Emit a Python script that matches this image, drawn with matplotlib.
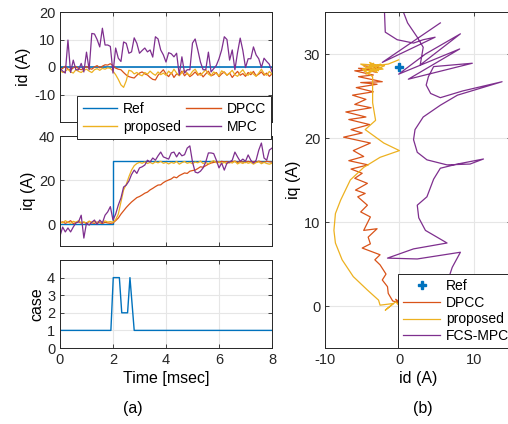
import numpy as np
import matplotlib
matplotlib.use("Agg")
import matplotlib.pyplot as plt
from matplotlib.lines import Line2D

plt.rcParams['font.family'] = ['Liberation Sans', 'DejaVu Sans']
plt.rcParams['font.size'] = 10
plt.rcParams['axes.unicode_minus'] = False

C_REF = '#0072BD'
C_DPCC = '#D95319'
C_PROP = '#EDB120'
C_MPC = '#7E2F8E'

# ---- time-domain data (sampled every 0.1 ms, 0..8 ms) ----
t = np.linspace(0, 8, 81)

ref_t = [0, 2.0, 2.0, 8]
ref_id = [0, 0, 0, 0]
ref_iq = [0, 0, 28.5, 28.5]

mpc_id = [-0.4, -1.5, -2.2, 9.8, -2.0, 2.5, -1.0, -1.0, 1.3, -1.8,
          5.4, -1.0, 12.2, 12.0, 10.0, 7.3, 14.1, 8.0, 8.0, 7.5,
          -2.2, 6.9, 3.2, 2.0, 9.1, 8.6, 5.0, 5.5, 10.6, 8.6,
          5.0, 6.0, 6.9, 5.5, 6.2, 3.6, 11.0, 10.2, 6.2, 4.4,
          1.8, 5.2, 4.8, 3.7, 5.0, -2.9, 3.7, -2.2, -1.0, -1.0,
          8.7, 10.2, 6.2, 1.8, -1.0, -1.0, 5.4, -1.8, -0.6, 0.6,
          3.0, 6.2, 11.0, 10.0, 2.5, 6.2, -1.0, 5.3, 10.5, 6.0,
          -0.2, 3.0, 3.0, 7.3, 4.4, 3.0, -0.2, 3.2, 2.0, 1.0, -1.8]

dpcc_id = [-1.0, -0.5, 0.3, -0.8, -1.2, -0.3, 0.2, -0.6, -1.0, -0.4,
           0.2, -0.5, -0.8, 0.0, 0.5, -0.3, 0.3, 0.8, 0.7, 1.2,
           0.5, -0.4, -0.8, -1.0, -2.0, -2.9, -3.5, -3.8, -4.0, -3.0,
           -2.2, -1.8, -2.5, -2.9, -3.8, -4.5, -4.7, -3.0, -2.0, -1.0,
           -2.5, -3.5, -2.0, -3.8, -2.5, -3.0, -1.5, -3.2, -2.2, -3.5,
           -2.8, -1.8, -3.0, -2.2, -3.6, -2.5, -1.5, -3.2, -2.8, -2.0,
           -3.5, -2.5, -1.8, -3.0, -2.2, -3.8, -2.6, -1.6, -3.0, -2.4,
           -3.4, -2.0, -2.8, -1.6, -3.2, -2.6, -1.8, -3.0, -2.2, -3.4, -2.5]

prop_id = [-1.2, -2.0, -1.5, -0.8, -1.8, -2.2, -1.0, -1.6, -2.0, -1.2,
           -0.8, -1.5, -2.0, -1.0, -0.6, -1.2, -0.5, -0.8, -0.3, -0.5,
           -1.5, -2.8, -4.5, -6.5, -7.4, -5.0, -1.2, -1.5, -2.5, -2.0,
           -2.8, -3.2, -2.0, -2.6, -1.5, -2.4, -3.0, -1.8, -2.8, -2.2,
           -3.0, -1.5, -2.5, -0.8, -2.2, -3.2, -2.0, -1.2, -2.5, -3.0,
           -1.6, -0.8, -2.4, -3.0, -2.0, -1.0, -2.6, -3.2, -1.8, -2.4,
           -3.2, -1.4, -2.0, -3.0, -2.2, -1.2, -2.8, -3.4, -2.0, -1.0,
           -2.6, -3.0, -1.8, -2.6, -3.4, -2.2, -0.8, -2.4, -3.0, -1.6, -2.6]

dpcc_iq = [0.5, 1.0, 0.3, 0.8, 1.5, 0.2, 0.6, 1.0, 0.4, 0.8,
           0.2, 1.2, 0.5, 0.3, 0.9, 0.6, 0.2, 0.8, 0.5, 0.3,
           0.5, 1.5, 2.7, 4.5, 6.0, 7.5, 8.8, 10.0, 11.0, 12.0,
           12.5, 13.2, 14.0, 14.5, 15.5, 16.2, 17.0, 17.7, 17.8, 18.8,
           19.5, 20.0, 20.5, 21.4, 21.0, 22.0, 22.6, 23.2, 23.0, 24.0,
           24.3, 24.5, 25.2, 26.0, 25.8, 26.5, 27.2, 27.7, 28.0, 28.3,
           28.0, 28.5, 28.2, 28.4, 27.8, 28.3, 28.6, 28.0, 28.4, 28.2,
           27.9, 28.5, 28.1, 28.4, 28.0, 28.6, 28.2, 28.0, 28.5, 28.3, 28.1]

prop_iq = [1.0, 0.5, 1.5, 0.8, 0.3, 1.2, 0.8, 1.5, 0.6, 1.0,
           0.4, 1.3, 0.8, 1.2, 0.5, 1.0, 0.7, 1.4, 0.9, 1.1,
           0.8, 2.0, 4.5, 10.0, 15.5, 18.0, 21.5, 24.5, 26.5, 27.5,
           28.0, 27.6, 28.2, 27.5, 28.0, 27.4, 28.3, 27.8, 28.5, 27.6,
           28.0, 27.3, 28.0, 27.6, 28.4, 27.2, 27.9, 28.4, 27.6, 28.0,
           27.4, 28.2, 27.8, 28.6, 27.5, 28.0, 27.3, 28.2, 28.8, 27.8,
           28.3, 27.5, 28.0, 27.4, 28.2, 27.7, 28.5, 27.3, 28.0, 27.5,
           28.2, 27.6, 28.0, 27.2, 27.9, 28.3, 27.4, 28.0, 27.5, 27.2, 27.6]

mpc_iq = [-5.5, -1.4, -3.6, -1.8, -3.6, -1.4, 0.5, 1.0, 4.0, -6.4,
          0.5, -0.5, 0.8, 1.8, -0.2, 1.8, 0.5, 4.0, 5.5, 7.9,
          1.8, 4.5, 8.6, 11.8, 16.8, 17.7, 19.5, 22.5, 24.5, 23.0,
          25.5, 26.0, 26.8, 29.0, 28.2, 30.0, 29.0, 31.0, 32.7, 30.5,
          30.0, 29.5, 32.3, 32.7, 30.5, 32.5, 31.0, 31.5, 34.5, 35.5,
          28.2, 23.6, 23.2, 24.0, 25.5, 28.2, 32.3, 32.3, 32.0, 29.0,
          25.5, 27.7, 24.5, 27.7, 28.2, 29.0, 32.7, 30.5, 28.5, 29.5,
          28.5, 31.4, 29.0, 27.7, 29.0, 33.6, 36.8, 30.0, 29.0, 33.6, 34.5]

case_t = [0, 1.92, 2.01, 2.24, 2.33, 2.55, 2.64, 2.8, 8]
case_v = [1, 1, 4, 4, 2, 2, 4, 1, 1]

# ---- phase-plane data (id, iq) ----
ref_pt_id = [0.0]
ref_pt_iq = [28.5]

dpcc_pid = [0.0, -0.5, 0.3, -0.9, -1.5, -1.6, -2.3, -1.8, -2.6, -3.3, -2.6, -5.0, -3.9,
            -4.2, -3.0, -4.8, -3.9, -5.2, -4.3, -5.6, -4.6, -5.9, -4.3, -6.0, -5.0,
            -6.5, -4.2, -6.8, -4.8, -6.2, -3.9, -7.5, -5.0, -6.5, -4.0, -6.8, -4.5,
            -7.2, -3.8, -6.0, -4.5, -6.3, -3.5, -5.8, -3.0, -5.2, -2.3, -5.5, -3.5,
            -6.0, -2.8, -5.5, -3.0, -4.8, -2.5, -4.0, -3.0]
dpcc_piq = [0.0, 0.8, 0.3, 0.6, 1.5, 2.3, 3.1, 3.8, 4.9, 5.5, 6.1, 6.9, 7.4,
            8.2, 9.2, 9.0, 10.6, 11.2, 12.0, 13.0, 13.4, 13.8, 14.6, 15.2, 15.8,
            16.3, 16.8, 17.3, 17.8, 18.5, 19.4, 20.1, 20.6, 21.0, 21.6, 22.2, 22.5,
            23.1, 23.6, 24.0, 24.6, 25.1, 25.5, 26.0, 26.4, 26.6, 26.7, 27.3, 27.5,
            28.0, 28.2, 28.3, 27.8, 28.6, 28.4, 28.0, 28.5]

prop_pid = [0.0, -0.5, -1.9, -0.8, -2.6, -2.8, -4.3, -6.2, -7.7, -8.6, -8.8, -8.6,
            -7.9, -6.6, -4.8, -2.6, 0.0, -2.1, -4.6, -3.2, -3.6, -3.6, -3.6,
            -5.0, -2.5, -4.5, -2.0, -5.2, -3.0, -4.0, -2.2, -4.8, -3.5, -2.8,
            -4.2, -1.5, -0.1]
prop_piq = [0.0, 0.5, -0.5, 0.3, 0.1, 0.7, 1.9, 3.5, 5.5, 7.5, 9.0, 11.0,
            12.6, 15.0, 16.5, 17.7, 18.5, 19.4, 21.0, 22.1, 24.2, 25.7, 27.3,
            28.2, 28.8, 27.6, 28.6, 28.8, 27.8, 29.0, 28.2, 28.0, 28.9, 28.0,
            28.5, 28.8, 29.3]

mpc_pid = [0.0, 2.0, 5.0, 6.5, 7.1, 8.2, 2.4, -1.6, 1.9, 6.4, 3.5, 2.6, 2.4, 3.7,
           4.6, 5.5, 7.8, 11.3, 9.5, 6.4, 3.7, 2.4, 1.9, 2.1, 3.2, 5.5, 7.8,
           13.8, 8.5, 5.5, 4.2, 3.6, 3.9, 4.6, 9.8, 1.2, 8.1, -0.1, 3.5, 8.2,
           2.8, 3.2, 2.4, 1.1, 0.1, -2.1, -2.0, -1.9, -0.3, 1.9, 3.2, 4.8,
           -2.3, 5.5]
mpc_piq = [0.0, 0.5, 1.5, 3.0, 4.6, 6.4, 5.6, 5.7, 6.8, 7.5, 9.0, 10.5, 12.0, 13.0,
           15.1, 16.4, 16.9, 17.5, 16.9, 16.8, 17.4, 18.3, 19.8, 21.0, 22.5, 23.9, 25.1,
           26.7, 25.6, 24.8, 25.3, 26.3, 27.3, 28.5, 28.9, 27.0, 30.6, 27.6, 30.0, 32.4,
           28.7, 30.8, 32.0, 33.7, 36.0, 36.0, 34.9, 32.6, 31.7, 31.3, 31.7, 32.0,
           29.0, 33.7]

# ---- figure ----
W, H = 508, 424
fig = plt.figure(figsize=(W / 100, H / 100), dpi=100)

def fx(px):
    return px / W

def fy(py):
    return 1 - py / H

L0, R0 = 60, 272
ax1 = fig.add_axes([fx(L0), fy(122), fx(R0 - L0), (122 - 12) / H])
ax2 = fig.add_axes([fx(L0), fy(246), fx(R0 - L0), (246 - 136) / H])
ax3 = fig.add_axes([fx(L0), fy(348), fx(R0 - L0), (348 - 260) / H])
ax4 = fig.add_axes([fx(325), fy(348), fx(511 - 325), (348 - 12) / H])

lw = 0.9
for ax in (ax1, ax2, ax3, ax4):
    ax.grid(True, color='#e6e6e6', linewidth=0.8)
    ax.set_axisbelow(True)
    ax.tick_params(direction='in', length=3, width=0.6, top=True, right=True,
                   labelsize=10.5, colors='#262626')
    for s in ax.spines.values():
        s.set_linewidth(0.7)
        s.set_color('#262626')

# top: id
ax1.plot(ref_t, ref_id, color=C_REF, lw=1.2)
ax1.plot(t, dpcc_id, color=C_DPCC, lw=lw)
ax1.plot(t, prop_id, color=C_PROP, lw=lw)
ax1.plot(t, mpc_id, color=C_MPC, lw=lw)
ax1.set_xlim(0, 8)
ax1.set_ylim(-20, 20)
ax1.set_yticks([-10, 0, 10, 20])
ax1.set_xticks([0, 2, 4, 6, 8])
ax1.set_xticklabels([])
ax1.set_ylabel('id (A)', fontsize=11.5, labelpad=2)

# middle: iq
ax2.plot(ref_t, ref_iq, color=C_REF, lw=1.0)
ax2.plot(t, dpcc_iq, color=C_DPCC, lw=lw)
ax2.plot(t, prop_iq, color=C_PROP, lw=lw)
ax2.plot(t, mpc_iq, color=C_MPC, lw=lw)
ax2.set_xlim(0, 8)
ax2.set_ylim(-10, 40)
ax2.set_yticks([0, 20, 40])
ax2.set_xticks([0, 2, 4, 6, 8])
ax2.set_xticklabels([])
ax2.set_ylabel('iq (A)', fontsize=11.5, labelpad=2)

# bottom: case
ax3.plot(case_t, case_v, color=C_REF, lw=1.0)
ax3.set_xlim(0, 8)
ax3.set_ylim(0, 5)
ax3.set_yticks([0, 1, 2, 3, 4])
ax3.set_xticks([0, 2, 4, 6, 8])
ax3.set_ylabel('case', fontsize=11.5, labelpad=2)
ax3.set_xlabel('Time [msec]', fontsize=11.5, labelpad=3)

handles = [Line2D([], [], color=C_REF, lw=1),
           Line2D([], [], color=C_PROP, lw=1),
           Line2D([], [], color=C_DPCC, lw=1),
           Line2D([], [], color=C_MPC, lw=1)]
labels = ['Ref', 'proposed', 'DPCC', 'MPC']
leg = fig.legend(handles, labels, ncol=2, loc='upper left',
                 bbox_to_anchor=(fx(77), fy(96)), frameon=True, fancybox=False,
                 edgecolor='#262626', framealpha=1, fontsize=10,
                 handlelength=2.5, columnspacing=0.4, handletextpad=0.4,
                 borderpad=0.4, labelspacing=0.3, borderaxespad=0)
leg.get_frame().set_linewidth(0.7)

# right: phase plane
ax4.plot(dpcc_pid, dpcc_piq, color=C_DPCC, lw=lw, label='DPCC')
ax4.plot(prop_pid, prop_piq, color=C_PROP, lw=lw, label='proposed')
ax4.plot(mpc_pid, mpc_piq, color=C_MPC, lw=lw, label='FCS-MPC')
ref_h, = ax4.plot(ref_pt_id, ref_pt_iq, linestyle='none', marker='P',
                  markersize=6, color=C_REF, label='Ref', zorder=5)
ax4.set_xlim(-10, 15)
ax4.set_ylim(-5, 35)
ax4.set_xticks([-10, 0, 10])
ax4.set_yticks([0, 10, 20, 30])
ax4.set_xlabel('id (A)', fontsize=11.5, labelpad=3)
ax4.set_ylabel('iq (A)', fontsize=11.5, labelpad=2)
h4, l4 = ax4.get_legend_handles_labels()
order = [3, 0, 1, 2]
leg2 = fig.legend([h4[i] for i in order], [l4[i] for i in order],
                  loc='lower left', bbox_to_anchor=(fx(398), fy(348)),
                  frameon=True, fancybox=False, edgecolor='#262626', framealpha=1,
                  fontsize=10, handlelength=2.7, handletextpad=0.4,
                  borderpad=0.35, labelspacing=0.2, borderaxespad=0)
leg2.get_frame().set_linewidth(0.7)

fig.text(fx(133), fy(408), '(a)', ha='center', va='center', fontsize=11.5)
fig.text(fx(423), fy(408), '(b)', ha='center', va='center', fontsize=11.5)

fig.savefig('out.png', dpi=100)
